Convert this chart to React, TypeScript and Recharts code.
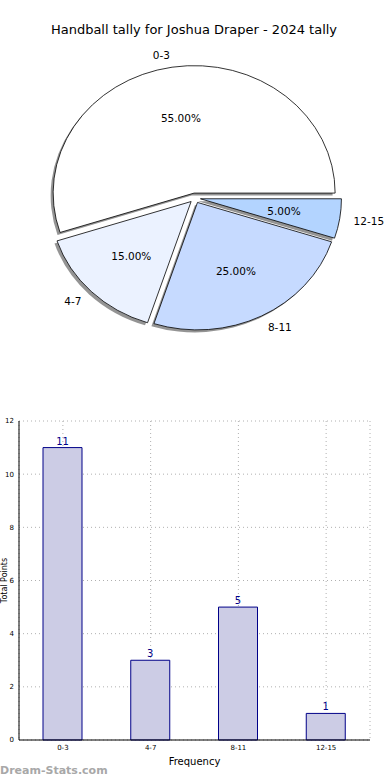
import React from 'react';
import {
  PieChart,
  Pie,
  BarChart,
  Bar,
  XAxis,
  YAxis,
  CartesianGrid,
  LabelList
} from 'recharts';

const categories = ['0-3', '4-7', '8-11', '12-15'];
const tallies = [11, 3, 5, 1];
const sliceColors = ['#ffffff', '#ebf2ff', '#c6daff', '#b3d4ff'];
const yTicks = [0, 2, 4, 6, 8, 10, 12];

const pieData = categories.map((name, i) => ({ name, value: tallies[i], fill: sliceColors[i] }));
const barData = categories.map((name, i) => ({ name, value: tallies[i] }));

const FONT = 'DejaVu Sans, sans-serif';
const RATIO = 0.904; // pie is squashed vertically, like the original
const EXPLODE = 5.5;
const RAD = Math.PI / 180;

// elliptical wedge, pushed out along its mid angle
function wedgePath(cx: number, cy: number, r: number, a0: number, a1: number, ox: number, oy: number) {
  const s = Math.min(a0, a1);
  const e = Math.max(a0, a1);
  const mid = (s + e) / 2;
  const x0 = cx + ox + EXPLODE * Math.cos(mid * RAD);
  const y0 = cy + oy - EXPLODE * RATIO * Math.sin(mid * RAD);
  const p = (a: number) => [x0 + r * Math.cos(a * RAD), y0 - r * RATIO * Math.sin(a * RAD)];
  const [sx, sy] = p(s);
  const [ex, ey] = p(e);
  const large = e - s > 180 ? 1 : 0;
  return `M${x0},${y0} L${sx},${sy} A${r},${r * RATIO} 0 ${large} 0 ${ex},${ey} Z`;
}

const WedgeShape = (props: any) => (
  <path
    d={wedgePath(props.cx, props.cy, props.outerRadius, props.startAngle, props.endAngle, 0, 0)}
    fill={props.payload?.fill ?? props.fill}
    stroke="#000"
    strokeWidth={0.8}
  />
);

const ShadowShape = (props: any) => (
  <path
    d={wedgePath(props.cx, props.cy, props.outerRadius, props.startAngle, props.endAngle, -2.5, 2.5)}
    fill="#4d4d4d"
    fillOpacity={0.6}
    stroke="none"
  />
);

const renderPieLabel = (props: any) => {
  const { cx, cy, midAngle, outerRadius, percent, name } = props;
  const c = Math.cos(midAngle * RAD);
  const s = Math.sin(midAngle * RAD);
  const outR = outerRadius * 1.1 + EXPLODE;
  const inR = outerRadius * 0.6 + EXPLODE;
  return (
    <g>
      <text
        x={cx + outR * c}
        y={cy - outR * RATIO * s}
        textAnchor={c >= 0 ? 'start' : 'end'}
        dominantBaseline="central"
        fontSize={10.5}
        fontFamily={FONT}
        fill="#000"
      >
        {name}
      </text>
      <text
        x={cx + inR * c}
        y={cy - inR * RATIO * s}
        textAnchor="middle"
        dominantBaseline="central"
        fontSize={10.5}
        fontFamily={FONT}
        fill="#000"
      >
        {(percent * 100).toFixed(2)}%
      </text>
    </g>
  );
};

export default function App() {
  return (
    <div style={{ position: 'absolute', left: 0, top: 0, width: 390, height: 780, background: '#fff', fontFamily: FONT, overflow: 'hidden' }}>
      <div style={{ position: 'absolute', top: 22, left: 0, width: 388, textAlign: 'center', fontSize: 13, color: '#000' }}>
        Handball tally for Joshua Draper - 2024 tally
      </div>

      {/* pie */}
      <div style={{ position: 'absolute', top: 0, left: 0 }}>
        <PieChart width={390} height={390} margin={{ top: 0, right: 0, bottom: 0, left: 0 }}>
          <Pie
            data={pieData}
            dataKey="value"
            nameKey="name"
            cx={195}
            cy={198}
            outerRadius={141}
            startAngle={0}
            endAngle={360}
            shape={ShadowShape}
            inactiveShape={ShadowShape}
            activeShape={ShadowShape}
            label={false}
            labelLine={false}
            isAnimationActive={false}
          />
          <Pie
            data={pieData}
            dataKey="value"
            nameKey="name"
            cx={195}
            cy={198}
            outerRadius={141}
            startAngle={0}
            endAngle={360}
            shape={WedgeShape}
            inactiveShape={WedgeShape}
            activeShape={WedgeShape}
            label={renderPieLabel}
            labelLine={false}
            isAnimationActive={false}
          />
        </PieChart>
      </div>

      {/* bars */}
      <div style={{ position: 'absolute', top: 400, left: 0 }}>
        <BarChart width={390} height={380} data={barData} margin={{ top: 21, right: 20, left: 0, bottom: 15 }}>
          <CartesianGrid stroke="#b0b0b0" strokeDasharray="1 3" />
          <XAxis
            dataKey="name"
            height={25}
            tickLine={false}
            tickSize={3}
            axisLine={{ stroke: '#000' }}
            tick={{ fontSize: 7, fill: '#000', fontFamily: FONT }}
            label={{ value: 'Frequency', position: 'insideBottom', offset: 0, fontSize: 10, fill: '#000', fontFamily: FONT }}
          />
          <YAxis
            width={19}
            domain={[0, 12]}
            ticks={yTicks}
            tickLine={false}
            tickSize={3}
            axisLine={{ stroke: '#000' }}
            tick={{ fontSize: 7, fill: '#000', fontFamily: FONT }}
            label={{ value: 'Total Points', angle: -90, position: 'center', dx: -5, fontSize: 8, fill: '#000', fontFamily: FONT }}
          />
          <XAxis xAxisId="top" orientation="top" dataKey="name" height={0} tick={false} tickLine={false} axisLine={{ stroke: '#000' }} />
          <YAxis yAxisId="right" orientation="right" width={0} domain={[0, 12]} tick={false} tickLine={false} axisLine={{ stroke: '#000' }} />
          <Bar dataKey="value" barSize={39} fill="#ccccE5" stroke="#000088" strokeWidth={1} isAnimationActive={false}>
            <LabelList dataKey="value" position="top" offset={3} fill="#000088" fontSize={10} fontFamily={FONT} />
          </Bar>
        </BarChart>
      </div>

      <div style={{ position: 'absolute', left: 0, top: 764, fontSize: 11, fontWeight: 'bold', color: '#a8a8a8' }}>
        Dream-Stats.com
      </div>
    </div>
  );
}
